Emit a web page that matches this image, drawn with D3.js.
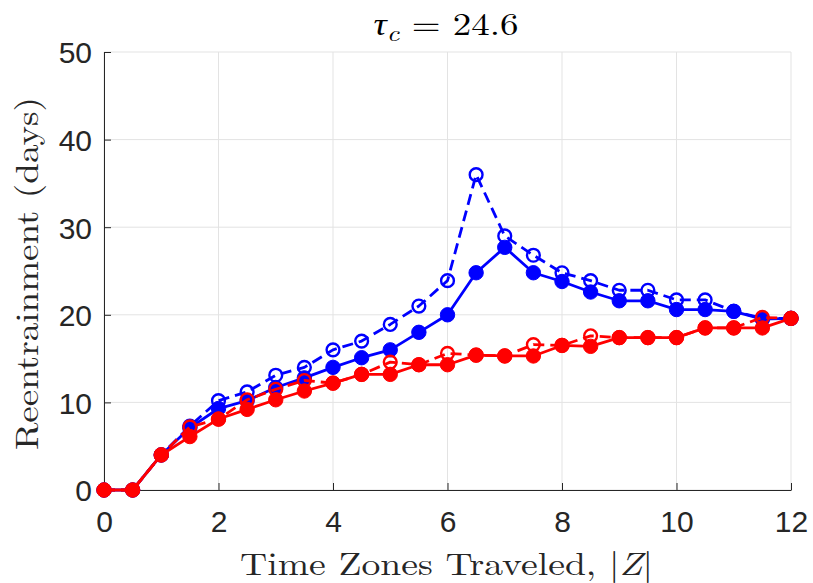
<!DOCTYPE html>
<html><head><meta charset="utf-8">
<script src="https://cdn.jsdelivr.net/npm/d3@7"></script>
<style>
html,body{margin:0;padding:0;background:#fff;}
svg{display:block;}
</style></head>
<body>
<svg id="chart" width="813" height="583"></svg>
<script>
// ---- data ----
const zones = [0,0.5,1,1.5,2,2.5,3,3.5,4,4.5,5,5.5,6,6.5,7,7.5,8,8.5,9,9.5,10,10.5,11,11.5,12];
const blueOpen   = [0,0,4.0,7.3,10.2,11.2,13.1,14.0,16.0,17.0,18.9,21.0,23.9,36.0,29.0,26.8,24.8,23.9,22.8,22.8,21.7,21.7,20.4,19.6,19.6];
const blueFilled = [0,0,4.0,7.1,9.3,10.2,11.7,12.8,14.0,15.1,16.0,18.0,20.0,24.8,27.7,24.8,23.8,22.6,21.6,21.6,20.6,20.6,20.4,19.5,19.6];
const redOpen    = [0,0,4.0,7.2,8.1,10.3,11.5,12.5,12.2,13.2,14.6,14.3,15.6,15.4,15.3,16.6,16.5,17.6,17.4,17.4,17.4,18.5,18.5,19.7,19.6];
const redFilled  = [0,0,4.0,6.1,8.1,9.2,10.3,11.3,12.2,13.2,13.2,14.3,14.3,15.4,15.3,15.3,16.5,16.4,17.4,17.4,17.4,18.5,18.5,18.5,19.6];
const xTicks = [0,2,4,6,8,10,12];
const yTicks = [0,10,20,30,40,50];
const titleMain = "τ", titleSub = "c", titleRest = " = 24.6";
const xLabelMain = "Time Zones Traveled, ", xLabelVar = "Z";
const yLabel = "Reentrainment (days)";

const series = [
  {vals: blueOpen,   color: "#0000ff", dashed: true,  filled: false},
  {vals: blueFilled, color: "#0000ff", dashed: false, filled: true},
  {vals: redOpen,    color: "#ff0000", dashed: true,  filled: false},
  {vals: redFilled,  color: "#ff0000", dashed: false, filled: true}
];

// ---- layout ----
const svg = d3.select("#chart");
const x = d3.scaleLinear().domain([0,12]).range([104,791]);
const y = d3.scaleLinear().domain([0,50]).range([490,52]);
const axisColor = "#262626";
const serif = "'Latin Modern Roman','Liberation Serif',serif";
const sans = "'Liberation Sans',Arial,Helvetica,sans-serif";

// grid
const grid = svg.append("g").attr("stroke","#e3e3e3").attr("stroke-width",1);
xTicks.forEach(t => grid.append("line").attr("x1",x(t)).attr("x2",x(t)).attr("y1",y(0)).attr("y2",y(50)));
yTicks.forEach(t => grid.append("line").attr("x1",x(0)).attr("x2",x(12)).attr("y1",y(t)).attr("y2",y(t)));

// axes
const xAxis = d3.axisBottom(x).tickValues(xTicks).tickSizeInner(-7).tickSizeOuter(0).tickFormat(d3.format("d"));
const yAxis = d3.axisLeft(y).tickValues(yTicks).tickSizeInner(-7).tickSizeOuter(0).tickFormat(d3.format("d"));
const gx = svg.append("g").attr("transform",`translate(0,${y(0)})`).call(xAxis);
const gy = svg.append("g").attr("transform",`translate(${x(0)},0)`).call(yAxis);
[gx,gy].forEach(g => {
  g.select(".domain").attr("stroke",axisColor).attr("stroke-width",1);
  g.selectAll(".tick line").attr("stroke",axisColor).attr("stroke-width",1);
  g.selectAll(".tick text").attr("fill",axisColor).attr("font-family",sans).attr("font-size",30);
});
gx.selectAll(".tick text").attr("y",42).attr("dy",null);
gy.selectAll(".tick text").attr("x",-12).attr("dy","0.36em");

// series
const line = d3.line().x((d,i)=>x(zones[i])).y(d=>y(d));
series.forEach(s => {
  const g = svg.append("g");
  g.append("path").datum(s.vals).attr("d",line)
    .attr("fill","none").attr("stroke",s.color).attr("stroke-width",2.8)
    .attr("stroke-linejoin","round")
    .attr("stroke-dasharray", s.dashed ? "11,6" : null);
  g.selectAll("circle").data(s.vals).join("circle")
    .attr("cx",(d,i)=>x(zones[i])).attr("cy",d=>y(d))
    .attr("r", s.filled ? 7.2 : 6.4)
    .attr("fill", s.filled ? s.color : "none")
    .attr("stroke", s.color).attr("stroke-width", s.filled ? 1 : 2.4);
});

// title
const title = svg.append("text").attr("x",446).attr("y",35).attr("text-anchor","middle")
  .attr("font-family",serif).attr("font-size",31).attr("fill","#000")
  .attr("textLength",145).attr("lengthAdjust","spacingAndGlyphs");
title.append("tspan").attr("font-style","italic").text(titleMain);
title.append("tspan").attr("font-style","italic").attr("font-size",23).attr("dy",6).text(titleSub);
title.append("tspan").attr("dy",-6).text(titleRest);

// x label
const xl = svg.append("text").attr("x",446.5).attr("y",575).attr("text-anchor","middle")
  .attr("font-family",serif).attr("font-size",32).attr("fill",axisColor)
  .attr("textLength",413).attr("lengthAdjust","spacingAndGlyphs");
xl.append("tspan").text(xLabelMain + "|");
xl.append("tspan").attr("font-style","italic").text(xLabelVar);
xl.append("tspan").text("|");

// y label
svg.append("text").attr("transform","translate(38,273.5) rotate(-90)")
  .attr("text-anchor","middle").attr("font-family",serif).attr("font-size",32)
  .attr("fill",axisColor).attr("textLength",353).attr("lengthAdjust","spacingAndGlyphs")
  .text(yLabel);
</script>
</body></html>
